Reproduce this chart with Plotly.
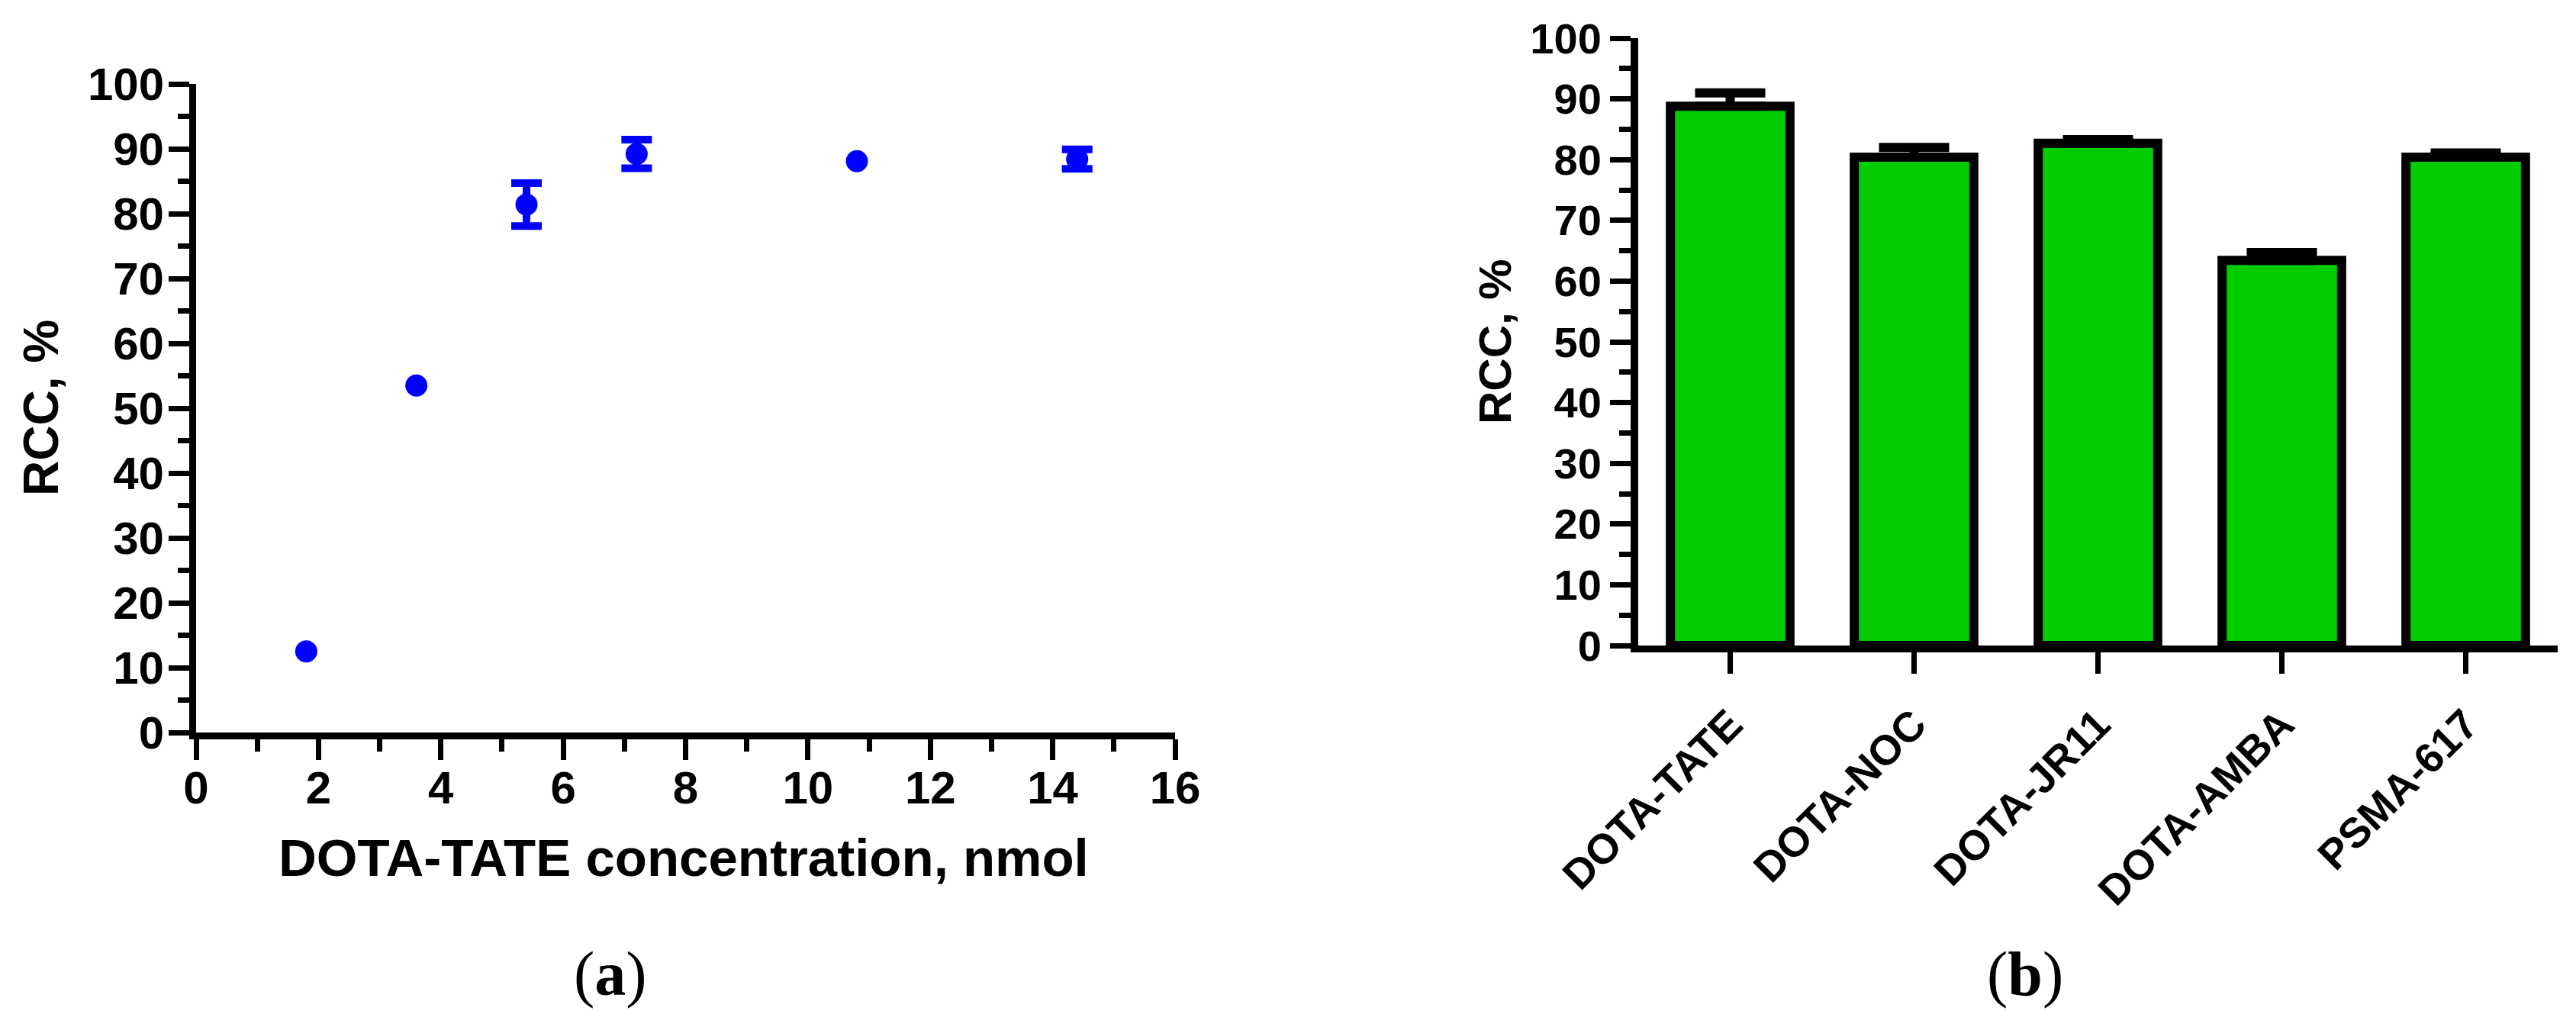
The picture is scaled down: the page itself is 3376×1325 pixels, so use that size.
import plotly.graph_objects as go

# panel (a): RCC vs DOTA-TATE amount
conc_nmol = [1.8, 3.6, 5.4, 7.2, 10.8, 14.4]
rcc_conc = [12.5, 53.5, 81.4, 89.2, 88.1, 88.4]
rcc_conc_err = [None, None, 3.3, 2.2, None, 1.5]

# panel (b): RCC per precursor
precursors = ["DOTA-TATE", "DOTA-NOC", "DOTA-JR11", "DOTA-AMBA", "PSMA-617"]
rcc_prec = [88.8, 80.4, 82.7, 63.4, 80.4]
rcc_prec_err = [2.2, 1.6, 0.6, 1.3, 0.7]

W, H = 3376, 1325
SANS = "Liberation Sans, Arial, sans-serif"
SERIF = "Liberation Serif, Times New Roman, serif"


def px_x(p):
    return p / W


def px_y(p):
    return 1 - p / H


fig = go.Figure()

# points that carry an error bar (GraphPad leaves the others bare)
idx = [i for i, e in enumerate(rcc_conc_err) if e is not None]
fig.add_trace(go.Scatter(
    x=[conc_nmol[i] for i in idx], y=[rcc_conc[i] for i in idx],
    mode="markers", marker=dict(color="#0000ff", size=1, opacity=0),
    error_y=dict(type="data", array=[rcc_conc_err[i] for i in idx],
                 visible=True, color="#0000ff", thickness=10, width=20),
    xaxis="x", yaxis="y", cliponaxis=False, hoverinfo="skip",
))
fig.add_trace(go.Scatter(
    x=conc_nmol, y=rcc_conc, mode="markers",
    marker=dict(color="#0000ff", size=29),
    xaxis="x", yaxis="y", cliponaxis=False,
))

fig.add_trace(go.Bar(
    x=precursors, y=rcc_prec, width=0.65,
    marker=dict(color="#00cc00", line=dict(color="black", width=12)),
    error_y=dict(type="data", symmetric=False, array=rcc_prec_err,
                 arrayminus=[0] * len(rcc_prec_err), visible=True,
                 color="black", thickness=12, width=46),
    xaxis="x2", yaxis="y2", cliponaxis=False,
))

axis_common = dict(
    showgrid=False, zeroline=False, showline=True, linecolor="black",
    linewidth=9, ticks="outside", tickcolor="black", tickwidth=7,
    ticklen=27, fixedrange=True, automargin=False,
)

fig.update_layout(
    width=W, height=H,
    margin=dict(l=0, r=0, t=0, b=0),
    paper_bgcolor="white", plot_bgcolor="white",
    showlegend=False,
    xaxis=dict(
        axis_common, domain=[px_x(249), px_x(1532)], range=[0, 16],
        tick0=0, dtick=2, anchor="y", ticklabelstandoff=-15,
        minor=dict(dtick=1, ticks="outside", ticklen=16, tickwidth=7,
                   tickcolor="black"),
        tickfont=dict(family=SANS, size=60, color="black", weight="bold"),
    ),
    yaxis=dict(
        axis_common, domain=[px_y(952), px_y(102)], range=[0, 100],
        tick0=0, dtick=10, anchor="x", ticklabelstandoff=-6,
        minor=dict(dtick=5, ticks="outside", ticklen=15, tickwidth=7,
                   tickcolor="black"),
        tickfont=dict(family=SANS, size=60, color="black", weight="bold"),
    ),
    xaxis2=dict(
        axis_common, domain=[px_x(2139), px_x(3344)], range=[-0.5, 4.5],
        anchor="y2", ticklen=28, tickangle=-45, ticklabelstandoff=12,
        tickfont=dict(family=SANS, size=55, color="black", weight="bold"),
    ),
    yaxis2=dict(
        axis_common, domain=[px_y(838), px_y(42)], range=[0, 100],
        tick0=0, dtick=10, anchor="x2", linewidth=10,
        minor=dict(dtick=5, ticks="outside", ticklen=15, tickwidth=7,
                   tickcolor="black"),
        tickfont=dict(family=SANS, size=56, color="black", weight="bold"),
    ),
)

title_font = dict(family=SANS, color="black", weight="bold")
annotations = [
    dict(text="DOTA-TATE concentration, nmol", x=px_x(888), y=px_y(1116),
         font=dict(title_font, size=69)),
    dict(text="RCC, %", x=px_x(46), y=px_y(527), textangle=-90,
         font=dict(title_font, size=64)),
    dict(text="RCC, %", x=px_x(1952), y=px_y(440), textangle=-90,
         font=dict(title_font, size=60)),
    dict(text="(<b>a</b>)", x=px_x(792), y=px_y(1268),
         font=dict(family=SERIF, size=82, color="black")),
    dict(text="(<b>b</b>)", x=px_x(2646), y=px_y(1268),
         font=dict(family=SERIF, size=82, color="black")),
]
for a in annotations:
    fig.add_annotation(xref="paper", yref="paper", showarrow=False,
                       xanchor="center", yanchor="middle", **a)

fig.write_html("out.html")
